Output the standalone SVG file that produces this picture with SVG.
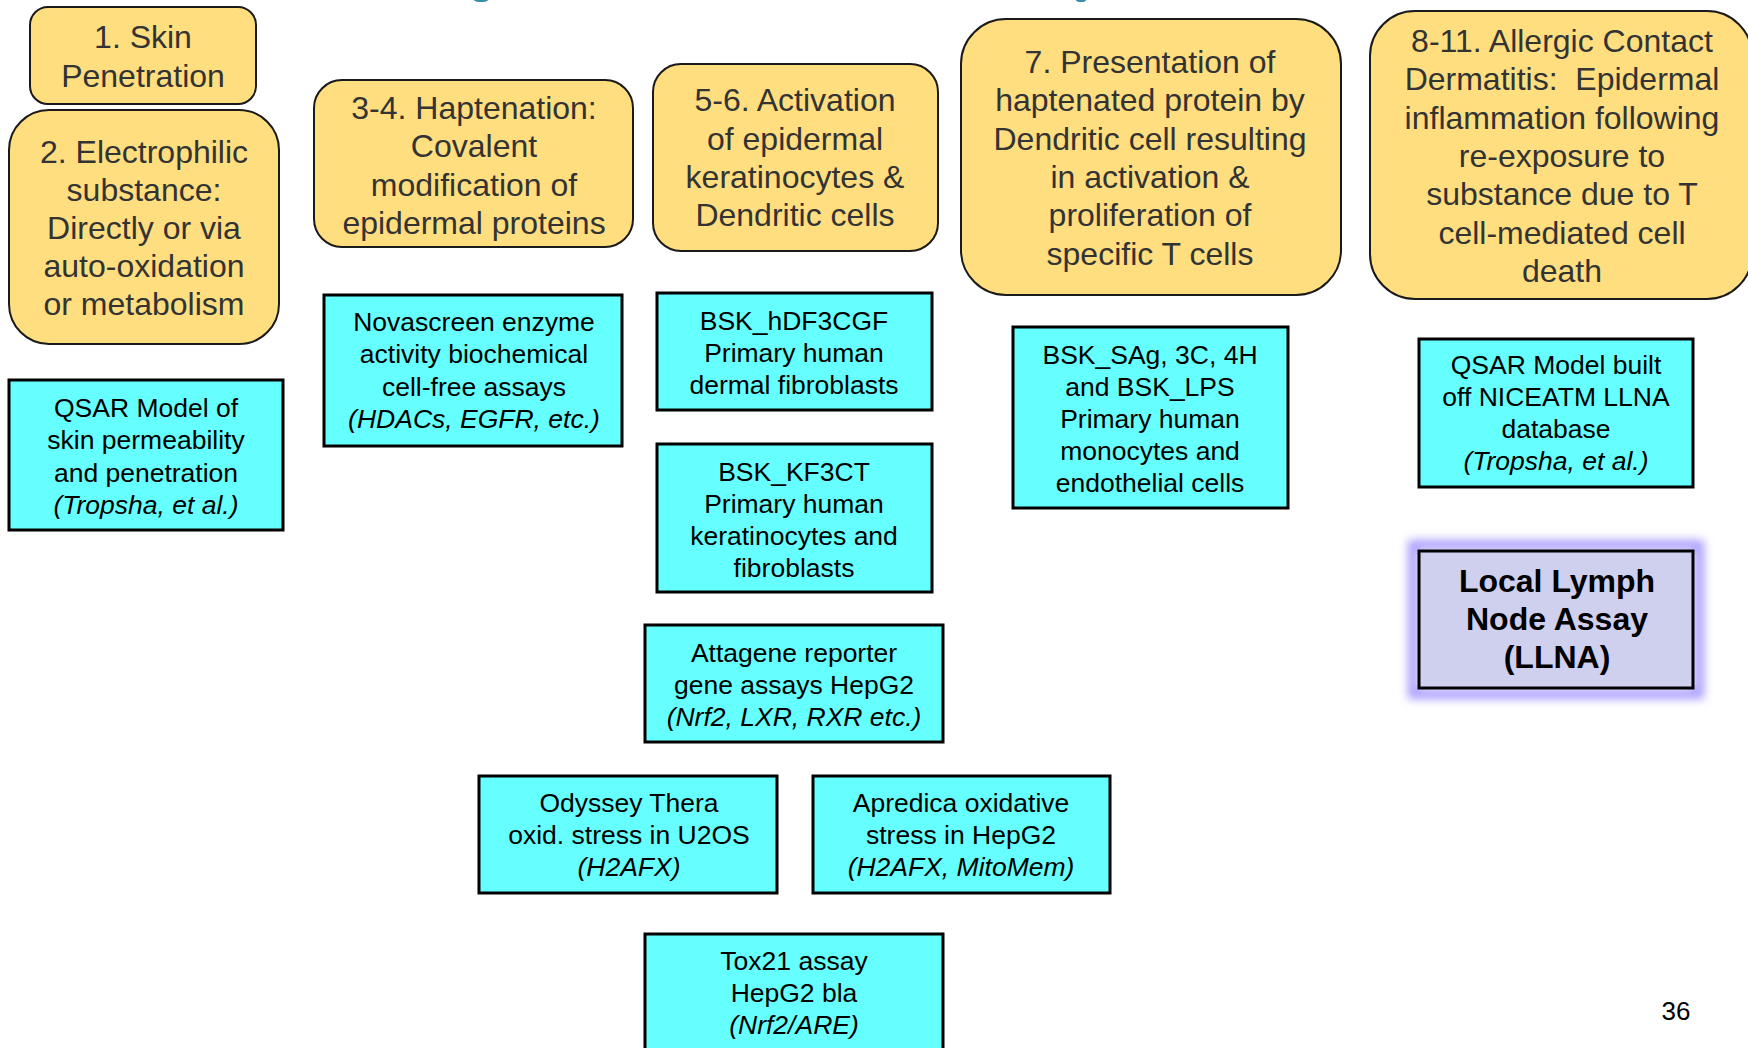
<svg xmlns="http://www.w3.org/2000/svg" width="1748" height="1048" viewBox="0 0 1748 1048">
<style>
.y{fill:#FFDE80;stroke:#1a1a1a;stroke-width:2}
.c{fill:#66FFFF;stroke:#000;stroke-width:3}
.ty{font-family:"Liberation Sans",Arial,sans-serif;font-size:32px;fill:#333;text-anchor:middle}
.tc{font-family:"Liberation Sans",Arial,sans-serif;font-size:26.5px;fill:#000;text-anchor:middle}
.i{font-style:italic}
.tb{font-family:"Liberation Sans",Arial,sans-serif;font-size:32px;font-weight:bold;fill:#000;text-anchor:middle}
</style>
<defs>
<filter id="glow" x="-30%" y="-30%" width="160%" height="160%">
<feGaussianBlur stdDeviation="5"/>
</filter>
</defs>
<rect width="1748" height="1048" fill="#fff"/>
<g id="title-fragments" fill="#3A8FA8">
<ellipse cx="481" cy="0" rx="7" ry="2"/>
<ellipse cx="1081" cy="0" rx="5" ry="2"/>
</g>
<g id="connectors"></g>
<g id="n1"><rect class="y" x="30" y="7" width="226" height="97" rx="18"/>
<text class="ty"><tspan x="143" y="48">1. Skin</tspan><tspan x="143" y="87">Penetration</tspan></text></g>
<g id="n2"><rect class="y" x="9" y="110" width="270" height="234" rx="40"/>
<text class="ty"><tspan x="144" y="163">2. Electrophilic</tspan><tspan x="144" y="201">substance:</tspan><tspan x="144" y="239">Directly or via</tspan><tspan x="144" y="277">auto-oxidation</tspan><tspan x="144" y="315">or metabolism</tspan></text></g>
<g id="n3"><rect class="y" x="314" y="80" width="319" height="167" rx="28"/>
<text class="ty"><tspan x="474" y="119">3-4. Haptenation:</tspan><tspan x="474" y="157">Covalent</tspan><tspan x="474" y="196">modification of</tspan><tspan x="474" y="234">epidermal proteins</tspan></text></g>
<g id="n4"><rect class="y" x="653" y="64" width="285" height="187" rx="28"/>
<text class="ty"><tspan x="795" y="111">5-6. Activation</tspan><tspan x="795" y="150">of epidermal</tspan><tspan x="795" y="188">keratinocytes &amp;</tspan><tspan x="795" y="226">Dendritic cells</tspan></text></g>
<g id="n5"><rect class="y" x="961" y="19" width="380" height="276" rx="45"/>
<text class="ty"><tspan x="1150" y="73">7. Presentation of</tspan><tspan x="1150" y="111">haptenated protein by</tspan><tspan x="1150" y="150">Dendritic cell resulting</tspan><tspan x="1150" y="188">in activation &amp;</tspan><tspan x="1150" y="226">proliferation of</tspan><tspan x="1150" y="265">specific T cells</tspan></text></g>
<g id="n6"><rect class="y" x="1370" y="11" width="382" height="288" rx="45"/>
<text class="ty"><tspan x="1562" y="52">8-11. Allergic Contact</tspan><tspan x="1562" y="90" xml:space="preserve">Dermatitis:  Epidermal</tspan><tspan x="1562" y="129">inflammation following</tspan><tspan x="1562" y="167">re-exposure to</tspan><tspan x="1562" y="205">substance due to T</tspan><tspan x="1562" y="244">cell-mediated cell</tspan><tspan x="1562" y="282">death</tspan></text></g>
<g id="a1"><rect class="c" x="9" y="380" width="274" height="150"/>
<text class="tc"><tspan x="146" y="417">QSAR Model of</tspan><tspan x="146" y="449">skin permeability</tspan><tspan x="146" y="482">and penetration</tspan><tspan x="146" y="514" class="i">(Tropsha, et al.)</tspan></text></g>
<g id="a2"><rect class="c" x="324" y="295" width="298" height="151"/>
<text class="tc"><tspan x="474" y="331">Novascreen enzyme</tspan><tspan x="474" y="363">activity biochemical</tspan><tspan x="474" y="396">cell-free assays</tspan><tspan x="474" y="428" class="i">(HDACs, EGFR, etc.)</tspan></text></g>
<g id="a3"><rect class="c" x="657" y="293" width="275" height="117"/>
<text class="tc"><tspan x="794" y="330">BSK_hDF3CGF</tspan><tspan x="794" y="362">Primary human</tspan><tspan x="794" y="394">dermal fibroblasts</tspan></text></g>
<g id="a4"><rect class="c" x="657" y="444" width="275" height="148"/>
<text class="tc"><tspan x="794" y="481">BSK_KF3CT</tspan><tspan x="794" y="513">Primary human</tspan><tspan x="794" y="545">keratinocytes and</tspan><tspan x="794" y="577">fibroblasts</tspan></text></g>
<g id="a5"><rect class="c" x="645" y="625" width="298" height="117"/>
<text class="tc"><tspan x="794" y="662">Attagene reporter</tspan><tspan x="794" y="694">gene assays HepG2</tspan><tspan x="794" y="726" class="i">(Nrf2, LXR, RXR etc.)</tspan></text></g>
<g id="a6"><rect class="c" x="479" y="776" width="298" height="117"/>
<text class="tc"><tspan x="629" y="812">Odyssey Thera</tspan><tspan x="629" y="844">oxid. stress in U2OS</tspan><tspan x="629" y="876" class="i">(H2AFX)</tspan></text></g>
<g id="a7"><rect class="c" x="813" y="776" width="297" height="117"/>
<text class="tc"><tspan x="961" y="812">Apredica oxidative</tspan><tspan x="961" y="844">stress in HepG2</tspan><tspan x="961" y="876" class="i">(H2AFX, MitoMem)</tspan></text></g>
<g id="a8"><rect class="c" x="645" y="934" width="298" height="130"/>
<text class="tc"><tspan x="794" y="970">Tox21 assay</tspan><tspan x="794" y="1002">HepG2 bla</tspan><tspan x="794" y="1034" class="i">(Nrf2/ARE)</tspan></text></g>
<g id="a9"><rect class="c" x="1013" y="327" width="275" height="181"/>
<text class="tc"><tspan x="1150" y="364">BSK_SAg, 3C, 4H</tspan><tspan x="1150" y="396">and BSK_LPS</tspan><tspan x="1150" y="428">Primary human</tspan><tspan x="1150" y="460">monocytes and</tspan><tspan x="1150" y="492">endothelial cells</tspan></text></g>
<g id="a10"><rect class="c" x="1419" y="339" width="274" height="148"/>
<text class="tc"><tspan x="1556" y="374">QSAR Model built</tspan><tspan x="1556" y="406">off NICEATM LLNA</tspan><tspan x="1556" y="438">database</tspan><tspan x="1556" y="470" class="i">(Tropsha, et al.)</tspan></text></g>
<g id="llna"><rect x="1413" y="545" width="286" height="149" fill="none" stroke="#A89CFF" stroke-width="10" filter="url(#glow)"/>
<rect x="1419" y="551" width="274" height="137" fill="#CFCFEE" stroke="#000" stroke-width="3"/>
<text class="tb"><tspan x="1557" y="592">Local Lymph</tspan><tspan x="1557" y="630">Node Assay</tspan><tspan x="1557" y="668">(LLNA)</tspan></text></g>
<text x="1676" y="1020" font-family="Liberation Sans, Arial, sans-serif" font-size="26" text-anchor="middle" fill="#000">36</text>
</svg>
